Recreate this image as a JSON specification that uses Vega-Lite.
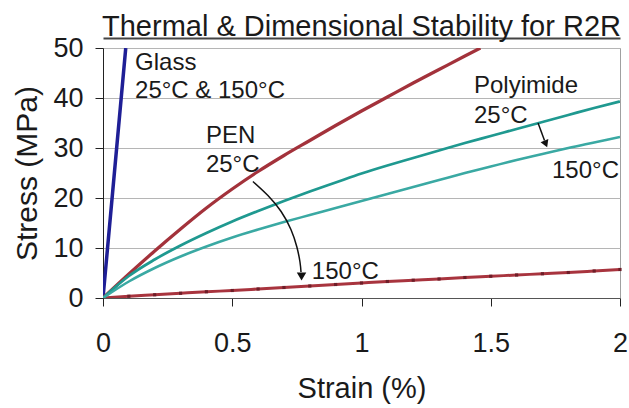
{
  "$schema": "https://vega.github.io/schema/vega-lite/v6.json",
  "width": 517,
  "height": 250,
  "autosize": "none",
  "padding": {"left": 103, "top": 48, "right": 9, "bottom": 110},
  "background": "white",
  "config": {
    "font": "Liberation Sans",
    "view": {"stroke": "#a0a0a0", "strokeWidth": 1}
  },
  "title": {
    "text": "Thermal & Dimensional Stability for R2R",
    "fontSize": 29,
    "fontWeight": "normal",
    "color": "#1a1a1a",
    "anchor": "middle",
    "offset": -8,
    "font": "Liberation Sans"
  },
  "resolve": {"axis": {"x": "independent"}},
  "datasets": {
    "curves": [
      {"series": "Glass", "strain": 0, "stress": 0},
      {"series": "Glass", "strain": 0.044, "stress": 25},
      {"series": "Glass", "strain": 0.088, "stress": 50},
      {"series": "PEN 25°C", "strain": 0, "stress": 0},
      {"series": "PEN 25°C", "strain": 0.1, "stress": 4.8},
      {"series": "PEN 25°C", "strain": 0.2, "stress": 9.4},
      {"series": "PEN 25°C", "strain": 0.3, "stress": 13.8},
      {"series": "PEN 25°C", "strain": 0.4, "stress": 18.0},
      {"series": "PEN 25°C", "strain": 0.5, "stress": 21.8},
      {"series": "PEN 25°C", "strain": 0.6, "stress": 25.3},
      {"series": "PEN 25°C", "strain": 0.7, "stress": 28.5},
      {"series": "PEN 25°C", "strain": 0.8, "stress": 31.5},
      {"series": "PEN 25°C", "strain": 0.9, "stress": 34.5},
      {"series": "PEN 25°C", "strain": 1.0, "stress": 37.4},
      {"series": "PEN 25°C", "strain": 1.1, "stress": 40.2},
      {"series": "PEN 25°C", "strain": 1.2, "stress": 43.0},
      {"series": "PEN 25°C", "strain": 1.3, "stress": 45.7},
      {"series": "PEN 25°C", "strain": 1.4, "stress": 48.4},
      {"series": "PEN 25°C", "strain": 1.46, "stress": 50},
      {"series": "PEN 150°C", "strain": 0, "stress": 0},
      {"series": "PEN 150°C", "strain": 0.1, "stress": 0.35},
      {"series": "PEN 150°C", "strain": 0.2, "stress": 0.65},
      {"series": "PEN 150°C", "strain": 0.3, "stress": 0.95},
      {"series": "PEN 150°C", "strain": 0.4, "stress": 1.25},
      {"series": "PEN 150°C", "strain": 0.5, "stress": 1.5},
      {"series": "PEN 150°C", "strain": 0.6, "stress": 1.8},
      {"series": "PEN 150°C", "strain": 0.7, "stress": 2.1},
      {"series": "PEN 150°C", "strain": 0.8, "stress": 2.4},
      {"series": "PEN 150°C", "strain": 0.9, "stress": 2.7},
      {"series": "PEN 150°C", "strain": 1.0, "stress": 3.0},
      {"series": "PEN 150°C", "strain": 1.1, "stress": 3.3},
      {"series": "PEN 150°C", "strain": 1.2, "stress": 3.55},
      {"series": "PEN 150°C", "strain": 1.3, "stress": 3.8},
      {"series": "PEN 150°C", "strain": 1.4, "stress": 4.1},
      {"series": "PEN 150°C", "strain": 1.5, "stress": 4.35},
      {"series": "PEN 150°C", "strain": 1.6, "stress": 4.6},
      {"series": "PEN 150°C", "strain": 1.7, "stress": 4.85},
      {"series": "PEN 150°C", "strain": 1.8, "stress": 5.1},
      {"series": "PEN 150°C", "strain": 1.9, "stress": 5.4},
      {"series": "PEN 150°C", "strain": 2.0, "stress": 5.7},
      {"series": "Polyimide 25°C", "strain": 0, "stress": 0},
      {"series": "Polyimide 25°C", "strain": 0.05, "stress": 2.3},
      {"series": "Polyimide 25°C", "strain": 0.1, "stress": 4.4},
      {"series": "Polyimide 25°C", "strain": 0.2, "stress": 7.7},
      {"series": "Polyimide 25°C", "strain": 0.3, "stress": 10.5},
      {"series": "Polyimide 25°C", "strain": 0.4, "stress": 13.0},
      {"series": "Polyimide 25°C", "strain": 0.5, "stress": 15.3},
      {"series": "Polyimide 25°C", "strain": 0.6, "stress": 17.4},
      {"series": "Polyimide 25°C", "strain": 0.7, "stress": 19.4},
      {"series": "Polyimide 25°C", "strain": 0.8, "stress": 21.3},
      {"series": "Polyimide 25°C", "strain": 0.9, "stress": 23.1},
      {"series": "Polyimide 25°C", "strain": 1.0, "stress": 24.9},
      {"series": "Polyimide 25°C", "strain": 1.1, "stress": 26.5},
      {"series": "Polyimide 25°C", "strain": 1.2, "stress": 28.0},
      {"series": "Polyimide 25°C", "strain": 1.3, "stress": 29.5},
      {"series": "Polyimide 25°C", "strain": 1.4, "stress": 31.0},
      {"series": "Polyimide 25°C", "strain": 1.5, "stress": 32.4},
      {"series": "Polyimide 25°C", "strain": 1.6, "stress": 33.8},
      {"series": "Polyimide 25°C", "strain": 1.7, "stress": 35.2},
      {"series": "Polyimide 25°C", "strain": 1.8, "stress": 36.6},
      {"series": "Polyimide 25°C", "strain": 1.9, "stress": 38.0},
      {"series": "Polyimide 25°C", "strain": 2.0, "stress": 39.3},
      {"series": "Polyimide 150°C", "strain": 0, "stress": 0},
      {"series": "Polyimide 150°C", "strain": 0.1, "stress": 3.3},
      {"series": "Polyimide 150°C", "strain": 0.2, "stress": 6.0},
      {"series": "Polyimide 150°C", "strain": 0.3, "stress": 8.3},
      {"series": "Polyimide 150°C", "strain": 0.4, "stress": 10.3},
      {"series": "Polyimide 150°C", "strain": 0.5, "stress": 12.1},
      {"series": "Polyimide 150°C", "strain": 0.6, "stress": 13.7},
      {"series": "Polyimide 150°C", "strain": 0.7, "stress": 15.2},
      {"series": "Polyimide 150°C", "strain": 0.8, "stress": 16.6},
      {"series": "Polyimide 150°C", "strain": 0.9, "stress": 18.0},
      {"series": "Polyimide 150°C", "strain": 1.0, "stress": 19.4},
      {"series": "Polyimide 150°C", "strain": 1.1, "stress": 20.8},
      {"series": "Polyimide 150°C", "strain": 1.2, "stress": 22.2},
      {"series": "Polyimide 150°C", "strain": 1.3, "stress": 23.6},
      {"series": "Polyimide 150°C", "strain": 1.4, "stress": 25.0},
      {"series": "Polyimide 150°C", "strain": 1.5, "stress": 26.3},
      {"series": "Polyimide 150°C", "strain": 1.6, "stress": 27.6},
      {"series": "Polyimide 150°C", "strain": 1.7, "stress": 28.8},
      {"series": "Polyimide 150°C", "strain": 1.8, "stress": 30.0},
      {"series": "Polyimide 150°C", "strain": 1.9, "stress": 31.1},
      {"series": "Polyimide 150°C", "strain": 2.0, "stress": 32.2}
    ],
    "arrows": [
      {"arrow": "pen", "strain": 0.58, "stress": 23.3},
      {"arrow": "pen", "strain": 0.638, "stress": 20.5},
      {"arrow": "pen", "strain": 0.689, "stress": 17.3},
      {"arrow": "pen", "strain": 0.727, "stress": 13.7},
      {"arrow": "pen", "strain": 0.75, "stress": 10.2},
      {"arrow": "pen", "strain": 0.762, "stress": 7.2},
      {"arrow": "pen", "strain": 0.766, "stress": 5.2},
      {"arrow": "pi", "strain": 1.683, "stress": 35.0},
      {"arrow": "pi", "strain": 1.708, "stress": 31.5}
    ],
    "heads": [
      {"arrow": "pen", "strain": 0.768, "stress": 4.3},
      {"arrow": "pi", "strain": 1.713, "stress": 30.8}
    ],
    "labels": [
      {"label": "Glass", "strain": 0.124, "stress": 45.6},
      {"label": "25°C & 150°C", "strain": 0.124, "stress": 40.0},
      {"label": "PEN", "strain": 0.398, "stress": 31.1},
      {"label": "25°C", "strain": 0.398, "stress": 25.3},
      {"label": "Polyimide", "strain": 1.435, "stress": 41.0},
      {"label": "25°C", "strain": 1.435, "stress": 35.1},
      {"label": "150°C", "strain": 1.737, "stress": 24.1},
      {"label": "150°C", "strain": 0.808, "stress": 3.8}
    ]
  },
  "encoding": {
    "y": {
      "field": "stress",
      "type": "quantitative",
      "scale": {"domain": [0, 50], "nice": false, "zero": false},
      "axis": {
        "title": "Stress (MPa)",
        "values": [0, 10, 20, 30, 40, 50],
        "grid": true,
        "gridColor": "#b5b5b5",
        "labelFontSize": 27,
        "labelColor": "#1a1a1a",
        "labelPadding": 12,
        "labelFlush": false,
        "tickSize": 8,
        "tickColor": "#222222",
        "domainColor": "#222222",
        "titleFontSize": 30,
        "titleFontWeight": "normal",
        "titleColor": "#1a1a1a",
        "titlePadding": 10
      }
    }
  },
  "layer": [
    {
      "data": {"name": "curves"},
      "mark": {"type": "line", "interpolate": "monotone", "clip": true},
      "encoding": {
        "x": {
          "field": "strain",
          "type": "quantitative",
          "scale": {"domain": [0, 2], "nice": false, "zero": false},
          "axis": {
            "title": "Strain (%)",
            "orient": "bottom",
            "values": [0, 0.5, 1, 1.5, 2],
            "format": "~g",
            "grid": false,
            "labelFontSize": 27,
            "labelColor": "#1a1a1a",
            "labelPadding": 24,
            "labelFlush": false,
            "tickSize": 8,
            "tickColor": "#222222",
            "domainColor": "#555555",
            "titleFontSize": 29,
            "titleFontWeight": "normal",
            "titleColor": "#1a1a1a",
            "titlePadding": 18
          }
        },
        "color": {
          "field": "series",
          "type": "nominal",
          "legend": null,
          "scale": {
            "domain": ["Glass", "PEN 25°C", "PEN 150°C", "Polyimide 25°C", "Polyimide 150°C"],
            "range": ["#1f1f96", "#a3323b", "#a8343e", "#1f9990", "#3aa9a3"]
          }
        },
        "strokeWidth": {
          "field": "series",
          "type": "nominal",
          "legend": null,
          "scale": {
            "domain": ["Glass", "PEN 25°C", "PEN 150°C", "Polyimide 25°C", "Polyimide 150°C"],
            "range": [3.5, 2.5, 2.5, 2.5, 2.2]
          }
        },
        "order": {"field": "strain", "type": "quantitative"}
      }
    },
    {
      "data": {"name": "curves"},
      "transform": [{"filter": "datum.series === 'PEN 150°C' && datum.strain > 0"}],
      "mark": {"type": "point", "shape": "square", "filled": true, "size": 10, "color": "#6e1e28", "opacity": 1},
      "encoding": {
        "x": {"field": "strain", "type": "quantitative", "axis": null}
      }
    },
    {
      "data": {"name": "arrows"},
      "mark": {"type": "line", "interpolate": "natural", "color": "#111111", "strokeWidth": 1.5},
      "encoding": {
        "x": {"field": "strain", "type": "quantitative", "axis": null},
        "detail": {"field": "arrow", "type": "nominal"},
        "order": {"field": "stress", "type": "quantitative", "sort": "descending"}
      }
    },
    {
      "data": {"name": "heads"},
      "transform": [{"filter": "datum.arrow === 'pen'"}],
      "mark": {"type": "point", "shape": "triangle-down", "filled": true, "size": 90, "color": "#111111", "opacity": 1},
      "encoding": {
        "x": {"field": "strain", "type": "quantitative", "axis": null}
      }
    },
    {
      "data": {"name": "heads"},
      "transform": [{"filter": "datum.arrow === 'pi'"}],
      "mark": {"type": "point", "shape": "triangle-down", "filled": true, "size": 70, "angle": -22, "color": "#111111", "opacity": 1},
      "encoding": {
        "x": {"field": "strain", "type": "quantitative", "axis": null}
      }
    },
    {
      "data": {"name": "labels"},
      "mark": {"type": "text", "align": "left", "baseline": "alphabetic", "fontSize": 24, "color": "#1a1a1a", "font": "Liberation Sans"},
      "encoding": {
        "x": {
          "field": "strain",
          "type": "quantitative",
          "axis": {
            "orient": "top",
            "title": null,
            "labels": false,
            "ticks": false,
            "grid": false,
            "domain": true,
            "domainColor": "#444444",
            "domainWidth": 2,
            "offset": 10
          }
        },
        "text": {"field": "label", "type": "nominal"}
      }
    }
  ]
}
